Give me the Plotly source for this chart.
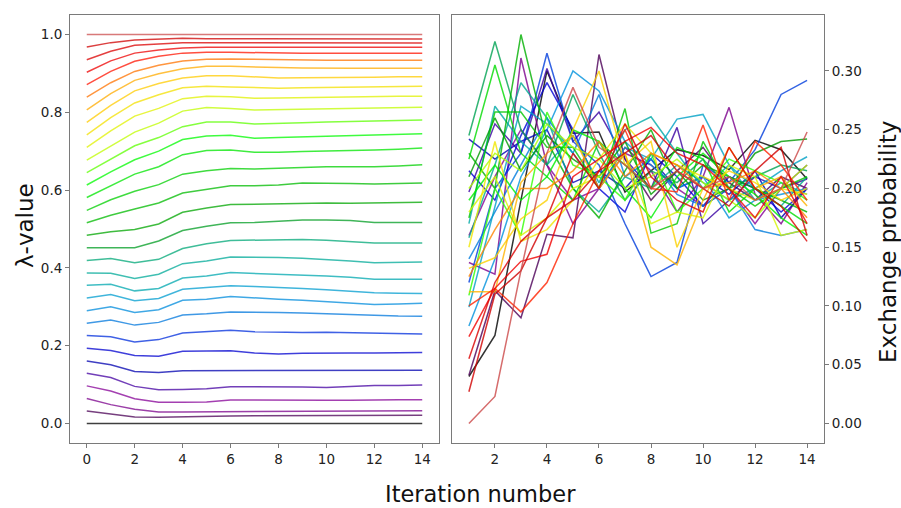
import plotly.graph_objects as go

# ---------------- data ----------------
iterations_left = list(range(0, 15))
iterations_right = list(range(1, 15))

# lambda values for each of the 32 states (rows), per iteration 0..14
lam_0 = [0.0] * 15
lam_1 = [0.0323, 0.0247, 0.0171, 0.0162, 0.0179, 0.0185, 0.0196, 0.020, 0.020, 0.0205, 0.0205, 0.021, 0.021, 0.0213, 0.0213]
lam_2 = [0.0645, 0.0486, 0.0367, 0.0298, 0.0298, 0.030, 0.0315, 0.032, 0.032, 0.032, 0.032, 0.0325, 0.033, 0.0332, 0.0332]
lam_3 = [0.0968, 0.0835, 0.0639, 0.0546, 0.0546, 0.0554, 0.0605, 0.060, 0.0597, 0.0597, 0.0597, 0.060, 0.0614, 0.0614, 0.0614]
lam_4 = [0.129, 0.1185, 0.0955, 0.087, 0.0878, 0.0895, 0.0946, 0.095, 0.0955, 0.094, 0.0929, 0.095, 0.098, 0.098, 0.0989]
lam_5 = [0.161, 0.151, 0.134, 0.131, 0.136, 0.136, 0.137, 0.136, 0.1355, 0.1355, 0.1355, 0.136, 0.137, 0.137, 0.137]
lam_6 = [0.1935, 0.188, 0.175, 0.173, 0.186, 0.186, 0.187, 0.181, 0.179, 0.1805, 0.1816, 0.1816, 0.1816, 0.182, 0.1824]
lam_7 = [0.226, 0.223, 0.2097, 0.2157, 0.2327, 0.237, 0.240, 0.236, 0.2345, 0.234, 0.2344, 0.233, 0.231, 0.2305, 0.230]
lam_8 = [0.258, 0.266, 0.253, 0.260, 0.279, 0.282, 0.287, 0.287, 0.2856, 0.284, 0.282, 0.279, 0.277, 0.2765, 0.276]
lam_9 = [0.290, 0.300, 0.2856, 0.2924, 0.317, 0.3197, 0.3265, 0.324, 0.3197, 0.317, 0.313, 0.310, 0.306, 0.307, 0.309]
lam_10 = [0.3226, 0.3316, 0.3154, 0.3214, 0.3453, 0.350, 0.354, 0.352, 0.350, 0.347, 0.344, 0.340, 0.336, 0.335, 0.334]
lam_11 = [0.3555, 0.358, 0.341, 0.347, 0.374, 0.379, 0.388, 0.386, 0.3836, 0.382, 0.379, 0.376, 0.371, 0.371, 0.371]
lam_12 = [0.387, 0.386, 0.373, 0.3836, 0.411, 0.418, 0.428, 0.428, 0.427, 0.425, 0.422, 0.418, 0.413, 0.414, 0.415]
lam_13 = [0.419, 0.424, 0.413, 0.422, 0.450, 0.462, 0.4706, 0.471, 0.473, 0.473, 0.4714, 0.468, 0.464, 0.464, 0.464]
lam_14 = [0.452, 0.452, 0.452, 0.469, 0.496, 0.507, 0.516, 0.517, 0.520, 0.523, 0.523, 0.522, 0.5166, 0.517, 0.517]
lam_15 = [0.484, 0.4928, 0.4987, 0.513, 0.543, 0.554, 0.5627, 0.564, 0.566, 0.567, 0.567, 0.566, 0.567, 0.567, 0.569]
lam_16 = [0.516, 0.5354, 0.5516, 0.567, 0.5925, 0.6027, 0.611, 0.611, 0.613, 0.618, 0.618, 0.617, 0.6155, 0.616, 0.618]
lam_17 = [0.548, 0.575, 0.5968, 0.614, 0.641, 0.650, 0.6556, 0.654, 0.656, 0.658, 0.660, 0.660, 0.660, 0.662, 0.665]
lam_18 = [0.581, 0.611, 0.641, 0.660, 0.691, 0.702, 0.703, 0.697, 0.697, 0.699, 0.700, 0.702, 0.703, 0.705, 0.708]
lam_19 = [0.613, 0.647, 0.678, 0.700, 0.730, 0.739, 0.741, 0.733, 0.735, 0.737, 0.739, 0.740, 0.742, 0.743, 0.745]
lam_20 = [0.645, 0.680, 0.714, 0.735, 0.763, 0.775, 0.775, 0.770, 0.771, 0.773, 0.775, 0.776, 0.778, 0.779, 0.780]
lam_21 = [0.677, 0.714, 0.749, 0.772, 0.803, 0.812, 0.810, 0.806, 0.807, 0.809, 0.810, 0.811, 0.812, 0.813, 0.813]
lam_22 = [0.710, 0.752, 0.790, 0.810, 0.835, 0.841, 0.840, 0.836, 0.837, 0.838, 0.839, 0.840, 0.840, 0.841, 0.841]
lam_23 = [0.742, 0.786, 0.824, 0.845, 0.863, 0.867, 0.865, 0.864, 0.862, 0.863, 0.864, 0.865, 0.866, 0.866, 0.867]
lam_24 = [0.774, 0.818, 0.855, 0.874, 0.888, 0.894, 0.894, 0.891, 0.888, 0.889, 0.889, 0.890, 0.890, 0.891, 0.891]
lam_25 = [0.806, 0.848, 0.882, 0.899, 0.912, 0.918, 0.918, 0.916, 0.915, 0.914, 0.913, 0.913, 0.913, 0.913, 0.913]
lam_26 = [0.839, 0.876, 0.905, 0.921, 0.932, 0.936, 0.937, 0.936, 0.935, 0.934, 0.934, 0.934, 0.934, 0.934, 0.934]
lam_27 = [0.871, 0.905, 0.931, 0.944, 0.952, 0.954, 0.954, 0.953, 0.952, 0.952, 0.952, 0.952, 0.952, 0.952, 0.952]
lam_28 = [0.903, 0.932, 0.952, 0.960, 0.965, 0.967, 0.967, 0.967, 0.967, 0.967, 0.967, 0.967, 0.967, 0.967, 0.967]
lam_29 = [0.935, 0.957, 0.972, 0.976, 0.979, 0.979, 0.979, 0.978, 0.978, 0.978, 0.978, 0.978, 0.978, 0.978, 0.978]
lam_30 = [0.968, 0.979, 0.986, 0.988, 0.990, 0.989, 0.989, 0.988, 0.988, 0.988, 0.988, 0.988, 0.988, 0.988, 0.988]
lam_31 = [1.0] * 15

lambda_series = [lam_0, lam_1, lam_2, lam_3, lam_4, lam_5, lam_6, lam_7, lam_8, lam_9,
                 lam_10, lam_11, lam_12, lam_13, lam_14, lam_15, lam_16, lam_17, lam_18, lam_19,
                 lam_20, lam_21, lam_22, lam_23, lam_24, lam_25, lam_26, lam_27, lam_28, lam_29,
                 lam_30, lam_31]

# exchange probabilities between neighbouring states, iterations 1..14
ex_0 = [0.040, 0.075, 0.190, 0.300, 0.247, 0.248, 0.197, 0.215, 0.233, 0.228, 0.216, 0.241, 0.233, 0.208]
ex_1 = [0.041, 0.113, 0.090, 0.161, 0.158, 0.314, 0.225, 0.190, 0.215, 0.235, 0.205, 0.190, 0.210, 0.200]
ex_2 = [0.137, 0.127, 0.311, 0.220, 0.170, 0.200, 0.235, 0.215, 0.180, 0.210, 0.269, 0.195, 0.170, 0.205]
ex_3 = [0.160, 0.210, 0.250, 0.220, 0.190, 0.200, 0.230, 0.220, 0.200, 0.185, 0.200, 0.170, 0.200, 0.220]
ex_4 = [0.197, 0.255, 0.230, 0.302, 0.240, 0.265, 0.225, 0.200, 0.252, 0.170, 0.190, 0.210, 0.200, 0.208]
ex_5 = [0.242, 0.225, 0.240, 0.250, 0.205, 0.215, 0.200, 0.225, 0.200, 0.210, 0.195, 0.215, 0.175, 0.200]
ex_6 = [0.215, 0.190, 0.245, 0.290, 0.250, 0.200, 0.180, 0.230, 0.210, 0.185, 0.210, 0.200, 0.180, 0.200]
ex_7 = [0.120, 0.200, 0.230, 0.315, 0.240, 0.220, 0.170, 0.125, 0.137, 0.220, 0.205, 0.233, 0.280, 0.292]
ex_8 = [0.140, 0.180, 0.220, 0.260, 0.230, 0.280, 0.210, 0.225, 0.195, 0.185, 0.200, 0.165, 0.160, 0.165]
ex_9 = [0.083, 0.140, 0.210, 0.250, 0.300, 0.283, 0.240, 0.220, 0.200, 0.210, 0.175, 0.190, 0.195, 0.200]
ex_10 = [0.099, 0.185, 0.270, 0.255, 0.230, 0.200, 0.235, 0.225, 0.259, 0.263, 0.220, 0.200, 0.215, 0.227]
ex_11 = [0.170, 0.270, 0.240, 0.220, 0.245, 0.205, 0.250, 0.261, 0.230, 0.200, 0.220, 0.190, 0.205, 0.195]
ex_12 = [0.158, 0.220, 0.290, 0.260, 0.200, 0.180, 0.210, 0.200, 0.220, 0.205, 0.190, 0.200, 0.185, 0.210]
ex_13 = [0.245, 0.325, 0.250, 0.220, 0.280, 0.230, 0.190, 0.215, 0.205, 0.225, 0.200, 0.210, 0.220, 0.215]
ex_14 = [0.210, 0.260, 0.215, 0.245, 0.225, 0.210, 0.240, 0.195, 0.215, 0.190, 0.200, 0.230, 0.240, 0.242]
ex_15 = [0.230, 0.200, 0.331, 0.240, 0.200, 0.175, 0.215, 0.250, 0.200, 0.220, 0.210, 0.200, 0.190, 0.180]
ex_16 = [0.175, 0.265, 0.265, 0.235, 0.235, 0.200, 0.268, 0.162, 0.170, 0.240, 0.200, 0.185, 0.200, 0.210]
ex_17 = [0.225, 0.305, 0.230, 0.210, 0.190, 0.240, 0.220, 0.200, 0.235, 0.225, 0.180, 0.200, 0.185, 0.170]
ex_18 = [0.190, 0.220, 0.190, 0.210, 0.250, 0.240, 0.200, 0.175, 0.210, 0.230, 0.210, 0.195, 0.175, 0.160]
ex_19 = [0.109, 0.200, 0.160, 0.265, 0.220, 0.210, 0.190, 0.230, 0.180, 0.200, 0.225, 0.215, 0.205, 0.190]
ex_20 = [0.200, 0.230, 0.215, 0.255, 0.235, 0.225, 0.200, 0.210, 0.225, 0.205, 0.190, 0.175, 0.200, 0.220]
ex_21 = [0.180, 0.210, 0.160, 0.175, 0.200, 0.210, 0.230, 0.170, 0.180, 0.175, 0.220, 0.210, 0.160, 0.165]
ex_22 = [0.150, 0.240, 0.155, 0.165, 0.190, 0.225, 0.255, 0.230, 0.220, 0.210, 0.200, 0.190, 0.200, 0.195]
ex_23 = [0.132, 0.141, 0.174, 0.190, 0.250, 0.300, 0.220, 0.240, 0.150, 0.200, 0.215, 0.205, 0.190, 0.200]
ex_24 = [0.112, 0.112, 0.205, 0.230, 0.245, 0.200, 0.230, 0.150, 0.135, 0.190, 0.235, 0.200, 0.210, 0.185]
ex_25 = [0.125, 0.165, 0.200, 0.200, 0.215, 0.240, 0.210, 0.230, 0.220, 0.200, 0.205, 0.215, 0.200, 0.175]
ex_26 = [0.100, 0.115, 0.095, 0.120, 0.170, 0.215, 0.250, 0.200, 0.197, 0.254, 0.190, 0.240, 0.220, 0.190]
ex_27 = [0.074, 0.115, 0.138, 0.144, 0.210, 0.225, 0.240, 0.252, 0.230, 0.220, 0.200, 0.175, 0.210, 0.170]
ex_28 = [0.055, 0.120, 0.155, 0.175, 0.230, 0.200, 0.255, 0.210, 0.190, 0.180, 0.235, 0.200, 0.185, 0.155]
ex_29 = [0.027, 0.110, 0.130, 0.175, 0.190, 0.215, 0.230, 0.245, 0.215, 0.200, 0.185, 0.215, 0.235, 0.160]
ex_30 = [0.000, 0.023, 0.130, 0.230, 0.286, 0.235, 0.220, 0.200, 0.215, 0.200, 0.210, 0.190, 0.200, 0.248]

exchange_series = [ex_0, ex_1, ex_2, ex_3, ex_4, ex_5, ex_6, ex_7, ex_8, ex_9,
                   ex_10, ex_11, ex_12, ex_13, ex_14, ex_15, ex_16, ex_17, ex_18, ex_19,
                   ex_20, ex_21, ex_22, ex_23, ex_24, ex_25, ex_26, ex_27, ex_28, ex_29, ex_30]

left_xticks = [0, 2, 4, 6, 8, 10, 12, 14]
left_yticks = [0.0, 0.2, 0.4, 0.6, 0.8, 1.0]
right_xticks = [2, 4, 6, 8, 10, 12, 14]
right_yticks = [0.00, 0.05, 0.10, 0.15, 0.20, 0.25, 0.30]

# ---------------- colormap (nipy_spectral) ----------------
_R = [0.0, 0.4667, 0.5333, 0.0, 0.0, 0.0, 0.0, 0.0, 0.0, 0.0, 0.0, 0.0, 0.0, 0.7333, 0.9333, 1.0, 1.0, 1.0, 0.8667, 0.80, 0.80]
_G = [0.0, 0.0, 0.0, 0.0, 0.0, 0.4667, 0.6, 0.6667, 0.6667, 0.6, 0.7333, 0.8667, 1.0, 1.0, 0.9333, 0.8, 0.6, 0.0, 0.0, 0.0, 0.80]
_B = [0.0, 0.5333, 0.6, 0.6667, 0.8667, 0.8667, 0.8667, 0.6667, 0.5333, 0.0, 0.0, 0.0, 0.0, 0.0, 0.0, 0.0, 0.0, 0.0, 0.0, 0.0, 0.80]


def nipy(v):
    v = min(max(v, 0.0), 1.0)
    pos = v / 0.05
    i = min(int(pos), 19)
    f = pos - i
    r = _R[i] + (_R[i + 1] - _R[i]) * f
    g = _G[i] + (_G[i + 1] - _G[i]) * f
    b = _B[i] + (_B[i + 1] - _B[i]) * f
    return "rgb(%d,%d,%d)" % (round(r * 255), round(g * 255), round(b * 255))


fig = go.Figure()

n_left = len(lambda_series)
for i, ys in enumerate(lambda_series):
    fig.add_trace(go.Scatter(
        x=iterations_left, y=ys, mode="lines",
        line=dict(color=nipy(i / n_left), width=1.5),
        opacity=0.75, showlegend=False, hoverinfo="skip",
        xaxis="x", yaxis="y"))

n_right = len(exchange_series)
for i, ys in enumerate(exchange_series):
    fig.add_trace(go.Scatter(
        x=iterations_right, y=ys, mode="lines",
        line=dict(color=nipy(i / n_right), width=1.5),
        opacity=0.8, showlegend=False, hoverinfo="skip",
        xaxis="x2", yaxis="y2"))

FONT = "DejaVu Sans, Arial, sans-serif"
axis_common = dict(
    showline=True, mirror=True, linecolor="#7a7a7a", linewidth=1,
    ticks="outside", ticklen=4, tickcolor="#7a7a7a", tickwidth=1,
    showgrid=False, zeroline=False,
    tickfont=dict(family=FONT, size=13.5, color="#222222"),
)

ydom = [65 / 508, 493 / 508]
fig.update_layout(
    width=901, height=508,
    margin=dict(l=0, r=0, t=0, b=0),
    paper_bgcolor="white", plot_bgcolor="white",
    xaxis=dict(domain=[70 / 901, 439 / 901], range=[-0.7, 14.7],
               tickvals=left_xticks, anchor="y", **axis_common),
    yaxis=dict(domain=ydom, range=[-0.05, 1.05], tickvals=left_yticks,
               ticktext=["%.1f" % v for v in left_yticks], anchor="x", **axis_common),
    xaxis2=dict(domain=[452 / 901, 824 / 901], range=[0.35, 14.65],
                tickvals=right_xticks, anchor="y2", **axis_common),
    yaxis2=dict(domain=ydom, range=[-0.0166, 0.3476], tickvals=right_yticks,
                ticktext=["%.2f" % v for v in right_yticks], anchor="x2",
                side="right", **axis_common),
    annotations=[
        dict(text="λ-value", x=25 / 901, y=(508 - 226) / 508, xref="paper", yref="paper",
             textangle=-90, showarrow=False, font=dict(family=FONT, size=23, color="#111111"),
             xanchor="center", yanchor="middle"),
        dict(text="Exchange probability", x=888 / 901, y=(508 - 242) / 508, xref="paper", yref="paper",
             textangle=-90, showarrow=False, font=dict(family=FONT, size=23, color="#111111"),
             xanchor="center", yanchor="middle"),
        dict(text="Iteration number", x=481 / 901, y=0.0, xref="paper", yref="paper",
             showarrow=False, font=dict(family=FONT, size=22.5, color="#111111"),
             xanchor="center", yanchor="bottom", borderpad=0),
    ],
)

fig.write_html("out.html", config={"displayModeBar": False},
               post_script="document.body.style.margin='0';document.body.style.padding='0';document.body.style.overflow='hidden';")
